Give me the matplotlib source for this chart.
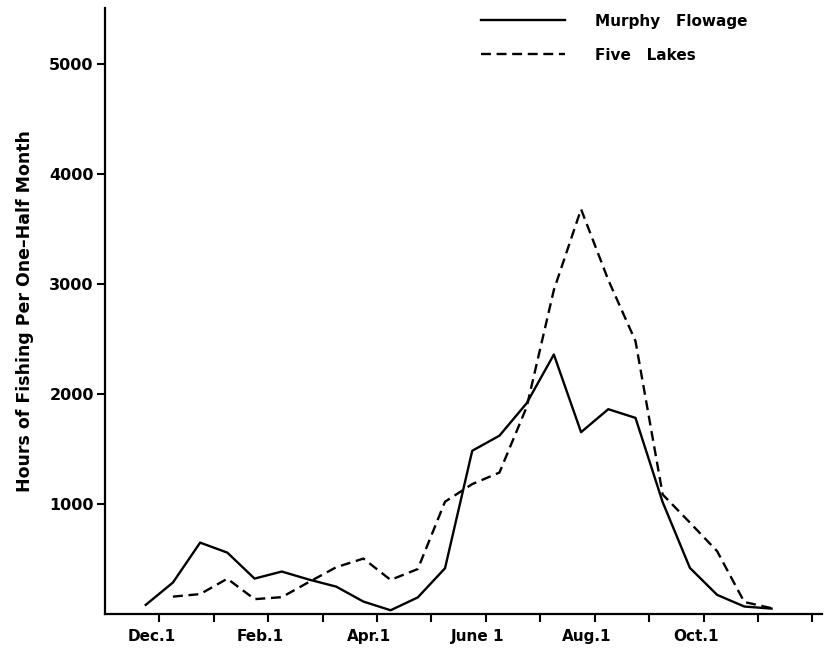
import matplotlib
matplotlib.use("Agg")
import matplotlib.pyplot as plt
from matplotlib.transforms import ScaledTranslation

# half-month periods, counted from Nov. 1 (0) ; points at the middle of each half-month
murphy_x = [1.5, 2.5, 3.5, 4.5, 5.5, 6.5, 7.5, 8.5, 9.5, 10.5, 11.5, 12.5,
            13.5, 14.5, 15.5, 16.5, 17.5, 18.5, 19.5, 20.5, 21.5, 22.5, 23.5, 24.5]
murphy = [82, 285, 648, 557, 321, 385, 312, 248, 112, 33, 150, 415,
          1483, 1620, 1915, 2358, 1652, 1861, 1782, 1015, 418, 173, 67, 48]

five_x = [2.5, 3.5, 4.5, 5.5, 6.5, 7.5, 8.5, 9.5, 10.5, 11.5, 12.5, 13.5,
          14.5, 15.5, 16.5, 17.5, 18.5, 19.5, 20.5, 21.5, 22.5, 23.5, 24.5]
five = [157, 180, 320, 134, 152, 290, 424, 503, 309, 408, 1020, 1180,
        1285, 1880, 2945, 3679, 3036, 2480, 1085, 830, 570, 108, 52]

month_ticks = [2, 4, 6, 8, 10, 12, 14, 16, 18, 20, 22, 24, 26]
month_labels = ["Dec.1", "", "Feb.1", "", "Apr.1", "", "June 1", "", "Aug.1", "",
                "Oct.1", "", ""]
y_ticks = [1000, 2000, 3000, 4000, 5000]

fig = plt.figure(figsize=(8.26, 6.51), dpi=100)
ax = fig.add_axes([0.127, 0.057, 0.868, 0.931])

ax.plot(murphy_x, murphy, color="black", lw=1.7, label="Murphy   Flowage")
ax.plot(five_x, five, color="black", lw=1.7, dashes=(4.2, 2.4), label="Five   Lakes")

ax.set_xlim(0, 26.35)
ax.set_ylim(0, 5510)

for s in ["top", "right"]:
    ax.spines[s].set_visible(False)
for s in ["left", "bottom"]:
    ax.spines[s].set_linewidth(1.6)

ax.set_xticks(month_ticks)
ax.set_xticklabels(month_labels, fontsize=11, fontweight="bold")
ax.tick_params(axis="x", length=6, width=1.5, pad=5)
shift = ScaledTranslation(-8 / 100, 0, fig.dpi_scale_trans)
for t in ax.get_xticklabels():
    t.set_transform(t.get_transform() + shift)

ax.set_yticks(y_ticks)
ax.set_yticklabels([str(v) for v in y_ticks], fontsize=11.5, fontweight="bold")
ax.tick_params(axis="y", length=6, width=1.5, pad=2)

ax.set_ylabel("Hours of Fishing Per One\u2013Half Month", fontsize=12.5,
              fontweight="bold", labelpad=11)

ax.legend(loc="upper left", bbox_to_anchor=(0.505, 1.013), frameon=False,
          handlelength=5.5, handletextpad=2.0, labelspacing=1.25,
          prop={"weight": "bold", "size": 11})

fig.savefig("out.png", dpi=100)
